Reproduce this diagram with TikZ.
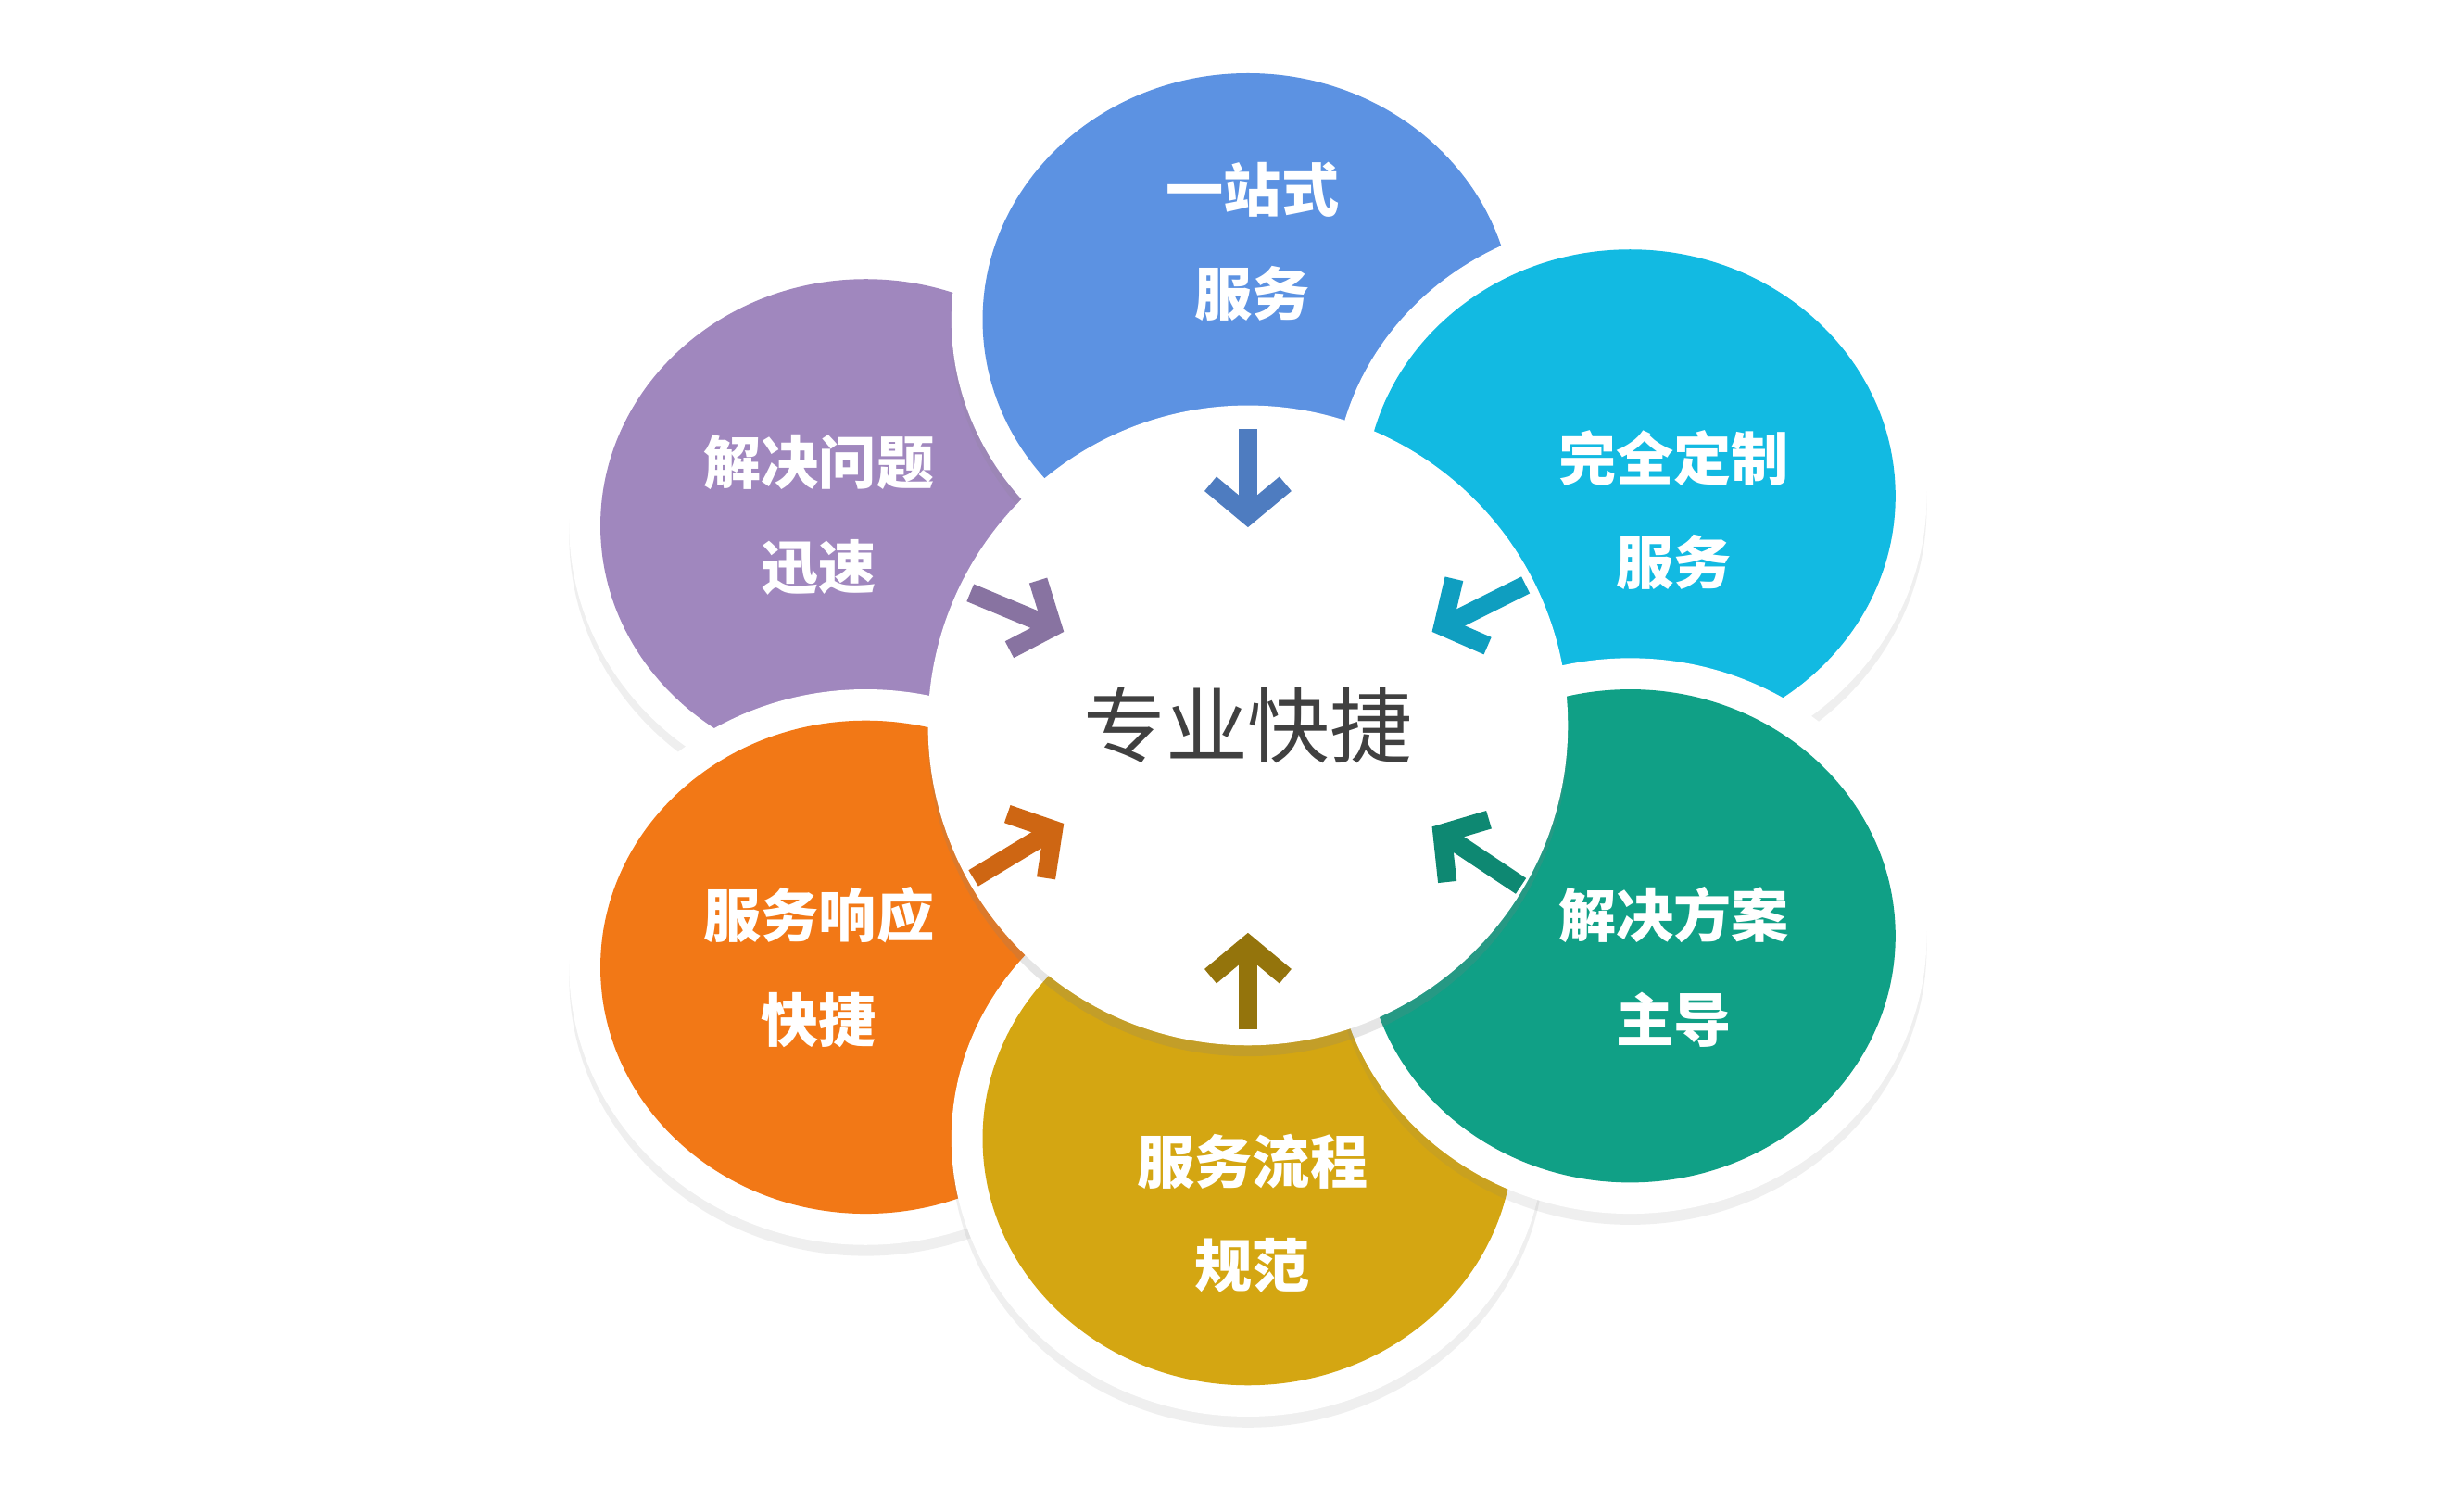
\documentclass[tikz,border=0pt]{standalone}
\usepackage{fontspec}
\newfontfamily\cjk{Noto Sans CJK SC}
\usetikzlibrary{arrows.meta,shadows,shapes.geometric}
\definecolor{petalpurple}{RGB}{160,135,190}
\definecolor{petalblue}{RGB}{92,146,226}
\definecolor{petalcyan}{RGB}{18,186,226}
\definecolor{petalgreen}{RGB}{16,160,134}
\definecolor{petalyellow}{RGB}{212,166,18}
\definecolor{petalorange}{RGB}{242,120,22}
\begin{document}
\begin{tikzpicture}[x=0.01cm, y=-0.01cm,
  ring/.style={ellipse, fill=white, inner sep=0pt, minimum width=3.8cm, minimum height=3.56cm,
               drop shadow={opacity=0.12, shadow xshift=0pt, shadow yshift=-2pt}},
  petal/.style={ellipse, inner sep=0pt, minimum width=3.4cm, minimum height=3.16cm},
  label/.style={text=white, align=center, font=\cjk\bfseries\fontsize{10.5pt}{19pt}\selectfont},
  hub/.style={circle, fill=white, inner sep=0pt, minimum size=4.1cm, font=\cjk\fontsize{15pt}{18pt}\selectfont, text=black!75,
              drop shadow={opacity=0.2, shadow xshift=0pt, shadow yshift=-2pt}},
  inarrow/.style={-{Straight Barb[length=2mm, width=4.8mm, line width=1.2mm]}, line width=1.2mm},
]
\useasboundingbox[fill=white] (0,0) rectangle (1568,969);

% petals
\foreach \nm/\px/\py/\col in {
    purple/555/337/petalpurple,
    blue/800/205/petalblue,
    cyan/1045/318/petalcyan,
    orange/555/620/petalorange,
    yellow/800/730/petalyellow,
    green/1045/600/petalgreen} {
  \node[ring] (ring-\nm) at (\px,\py) {};
  \node[petal, fill=\col] (petal-\nm) at (\px,\py) {};
}

% texts
\node[label] at (525,330) {解决问题\\迅速};
\node[label] at (803,155) {一站式\\服务};
\node[label] at (1073,327) {完全定制\\服务};
\node[label] at (1073,620) {解决方案\\主导};
\node[label] at (803,778) {服务流程\\规范};
\node[label] at (525,620) {服务响应\\快捷};

% hub
\node[hub] (hub) at (800,465) {专业快捷};

% arrows
\coordinate (a1) at (800,275); \coordinate (b1) at (800,338);
\coordinate (a2) at (622,380); \coordinate (b2) at (682,405);
\coordinate (a3) at (978,375); \coordinate (b3) at (918,405);
\coordinate (a4) at (975,568); \coordinate (b4) at (918,530);
\coordinate (a5) at (624,563); \coordinate (b5) at (682,528);
\coordinate (a6) at (800,660); \coordinate (b6) at (800,598);
\draw[inarrow, petalblue!85!black] (a1) -- (b1);
\draw[inarrow, petalpurple!85!black] (a2) -- (b2);
\draw[inarrow, petalcyan!85!black] (a3) -- (b3);
\draw[inarrow, petalgreen!85!black] (a4) -- (b4);
\draw[inarrow, petalorange!85!black] (a5) -- (b5);
\draw[inarrow, petalyellow!70!black] (a6) -- (b6);

\end{tikzpicture}
\end{document}
